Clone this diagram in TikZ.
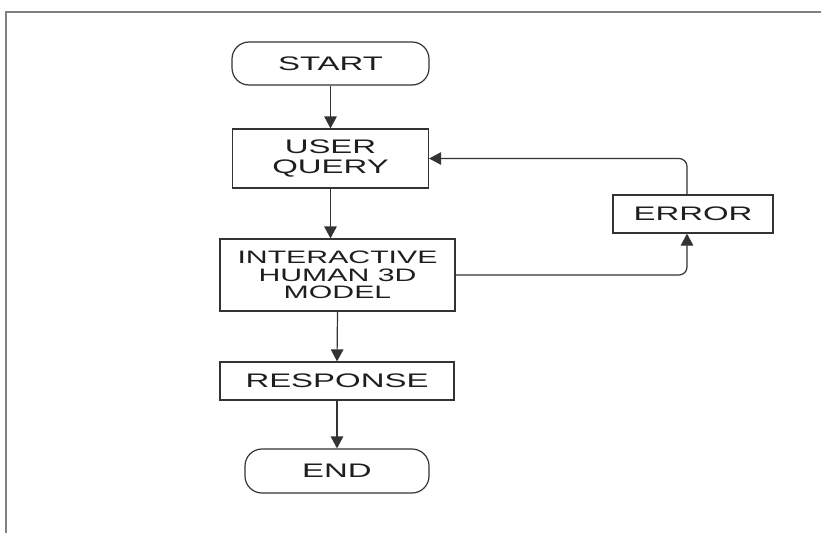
\documentclass[tikz,border=0pt]{standalone}
\usepackage{fontspec}
\newfontfamily\wide[FakeStretch=1.68]{Liberation Sans}
\usetikzlibrary{arrows.meta}
\definecolor{ln}{HTML}{333333}
\definecolor{tx}{HTML}{1E1E1E}
\definecolor{frm}{HTML}{808080}
\tikzset{
  box/.style={draw=ln, line width=1.2pt, rectangle, inner sep=0pt, align=center,
    text=tx, font=\wide\fontsize{19.6}{20}\selectfont},
  term/.style={box, rounded corners=17pt},
  arr/.style={draw=ln, line width=1.2pt, -{Triangle[length=12pt,width=12.5pt]}},
}
\begin{document}
\begin{tikzpicture}[x=1pt,y=-1pt]
\useasboundingbox (0,0) rectangle (821,533);
\draw[frm, line width=1.5pt] (6,533) -- (6,12) -- (821,12);
\node[term, minimum width=197pt, minimum height=43pt] (start) at (330.5,63.5) {START};
\node[box, minimum width=196pt, minimum height=59pt] (user) at (330.5,158.5) {USER\\QUERY};
\node[box, minimum width=235pt, minimum height=72pt, font=\wide\fontsize{18}{17.5}\selectfont] (inter) at (337.5,275) {INTERACTIVE\\HUMAN 3D\\MODEL};
\node[box, minimum width=234pt, minimum height=38pt] (resp) at (337,381) {RESPONSE};
\node[term, minimum width=184pt, minimum height=44pt] (end) at (337,471) {END};
\node[box, minimum width=160pt, minimum height=38pt] (err) at (693,214) {ERROR};
\draw[arr] (start.south -| user.south) -- (user.north);
\draw[arr] (user.south) -- (user.south |- inter.north);
\draw[arr] (inter.south) -- (resp.north);
\draw[arr] (resp.south) -- (end.north);
\draw[arr, rounded corners=8pt] (inter.east) -| ([xshift=-6pt]err.south);
\draw[arr, rounded corners=8pt] ([xshift=-6pt]err.north) |- (user.east);
\end{tikzpicture}
\end{document}
